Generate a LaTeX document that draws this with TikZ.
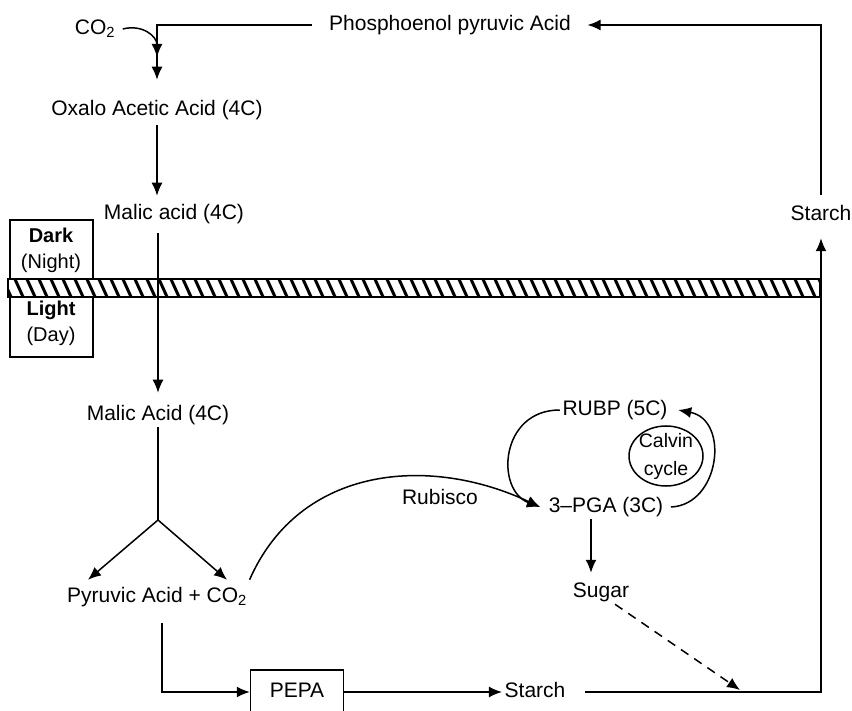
\documentclass[tikz,border=0pt]{standalone}
\usepackage{fontspec}
\setmainfont{Liberation Sans}
\usetikzlibrary{arrows.meta, positioning, calc}

\begin{document}
\begin{tikzpicture}[x=1pt, y=-1pt, line width=1.5pt,
    lbl/.style={inner sep=2pt, text height=15pt, text depth=4pt, font=\fontsize{21}{24}\selectfont},
    arr/.style={-{Latex[length=13pt,width=11pt]}}]
\useasboundingbox (0,0) rectangle (852,711);
\draw (10,220) rectangle (93,357);
\fill[white] (8,279) rectangle (820,297);
\begin{scope}
    \clip (8,279) rectangle (820,297);
    \foreach \x in {-10,2,...,830} \draw[line width=3pt] (\x,277) -- (\x+10,299);
\end{scope}
\draw (8,279) rectangle (820,297);
\node[align=center, font=\fontsize{20}{26}\selectfont] (dark) at (51,250) {\bfseries Dark\\(Night)};
\node[align=center, font=\fontsize{20}{26}\selectfont] (light) at (51,323) {\bfseries Light\\(Day)};
\node[lbl] (co2) at (95,29) {CO\textsubscript{2}};
\node[lbl] (pep) at (450,25) {Phosphoenol pyruvic Acid};
\node[lbl] (oaa) at (157,110) {Oxalo Acetic Acid (4C)};
\node[lbl] (malicA) at (174,214) {Malic acid (4C)};
\node[lbl] (malicB) at (158,415) {Malic Acid (4C)};
\node[lbl] (pyr) at (157,597) {Pyruvic Acid + CO\textsubscript{2}};
\node[lbl, draw, minimum width=93pt, minimum height=44pt] (pepa) at (297,692) {PEPA};
\node[lbl] (starchB) at (535,692) {Starch};
\node[lbl] (starchA) at (821,215) {Starch};
\node[lbl] (rubp) at (615,410) {RUBP (5C)};
\node[lbl] (pga) at (606,507) {3\textendash PGA (3C)};
\node[lbl] (sugar) at (601,592) {Sugar};
\node[lbl] (rubisco) at (440,499) {Rubisco};
\node[align=center, inner sep=0pt, font=\fontsize{19.5}{28}\selectfont] (calvin) at (666,456) {Calvin\\cycle};
\draw (calvin.center) ellipse (37 and 30);
\coordinate (join) at (157,57);
\coordinate (fork) at (158,520);
\coordinate (drop) at (740,690);
\draw[arr, shorten >=18pt] ([xshift=-14pt]pep.west) -| (oaa.north);
\draw[arr] ([xshift=5pt]co2.east) .. controls (142,24) and (157,36) .. (join);
\draw[arr, shorten <=8pt] (starchA.north) |- ([xshift=14pt]pep.east);
\draw[arr, shorten <=3pt, shorten >=6pt] (oaa.south) -- (oaa.south |- malicA.north);
\draw[arr, shorten <=7pt, shorten >=10pt] (malicA.south -| malicB.north) -- (malicB.north);
\draw (malicB.south) -- (fork);
\draw[arr] (fork) -- ([xshift=-69pt,yshift=5pt]pyr.north);
\draw[arr] (fork) -- ([xshift=70pt,yshift=5pt]pyr.north);
\draw[arr, shorten <=14pt] ([xshift=5pt]pyr.south) |- (pepa.west);
\draw[arr] (pepa.east) -- (starchB.west);
\draw[arr, shorten >=11pt] ([xshift=17pt]starchB.east) -| (starchA.south);
\draw[arr] ([yshift=5pt]pyr.north east) .. controls (300,465) and (430,455) .. ([xshift=-6pt]pga.west);
\draw[arr] (rubp.west) .. controls (500,410) and (495,490) .. ([xshift=-6pt]pga.west);
\draw[arr] ([xshift=5pt]pga.east) .. controls (720,505) and (730,420) .. ([xshift=8pt]rubp.east);
\draw[arr, shorten >=7pt] ([xshift=-15pt]pga.south) -- ([xshift=-10pt]sugar.north);
\draw[arr, dashed, dash pattern=on 9pt off 7pt] ([xshift=14pt]sugar.south) -- (drop);
\end{tikzpicture}
\end{document}
